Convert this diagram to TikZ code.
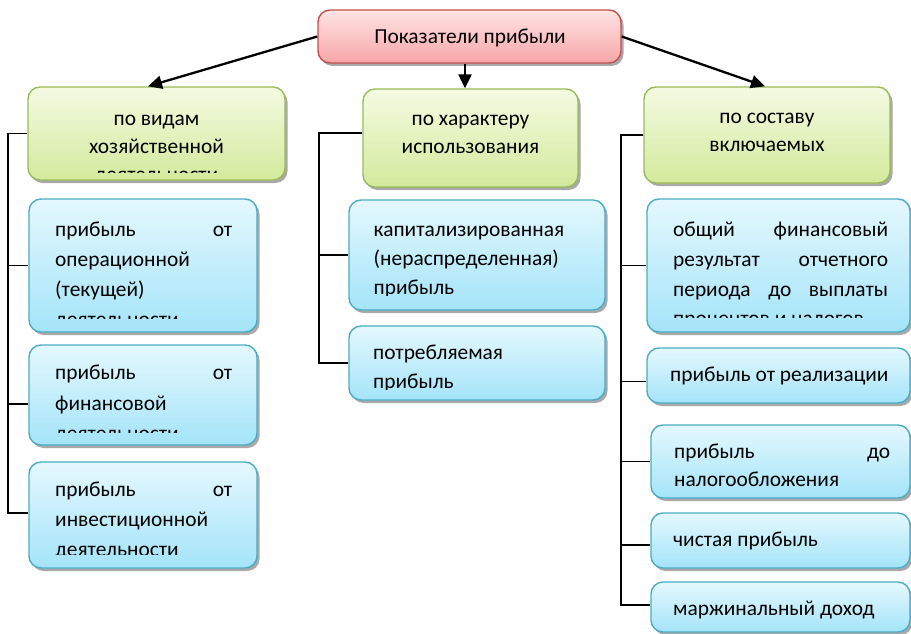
\documentclass[tikz,border=0pt]{standalone}
\usepackage{fontspec}
\setmainfont{Carlito}
\usetikzlibrary{arrows.meta,shadows,fit,calc}
\definecolor{redT}{HTML}{FFE4E4}
\definecolor{redBt}{HTML}{F7A5A8}
\definecolor{redD}{HTML}{C0504D}
\definecolor{grT}{HTML}{F4FAE2}
\definecolor{grBt}{HTML}{D3EA9C}
\definecolor{grD}{HTML}{9BBB59}
\definecolor{blT}{HTML}{E4F8FE}
\definecolor{blBt}{HTML}{A4E4F9}
\definecolor{blD}{HTML}{4BACC6}
\begin{document}
\begin{tikzpicture}[x=1pt,y=-1pt,
  box/.style={draw, line width=1.4pt, rounded corners=12pt, inner sep=0pt,
    drop shadow={shadow xshift=2.5pt, shadow yshift=-3pt, fill=black!45, opacity=0.75}},
  redbox/.style={box, draw=redD, top color=redT, bottom color=redBt},
  grbox/.style={box, draw=grD, top color=grT, bottom color=grBt},
  blbox/.style={box, draw=blD, top color=blT, bottom color=blBt},
  txt/.style={inner sep=0pt, font=\fontsize{21.4}{25}\selectfont, text=black},
  ln/.style={draw=black, line width=1.8pt},
  arr/.style={draw=black, line width=2.3pt, -{Triangle[length=14pt,width=13pt]}}]
\useasboundingbox (0,0) rectangle (911,634);

% boxes
\node[redbox, fit={(318,10) (621,63)}] (T) {};
\node[grbox, fit={(28,87) (285,180)}] (G1) {};
\node[grbox, fit={(363,89) (578,187)}] (MG) {};
\node[grbox, fit={(644,87) (890,183)}] (RG) {};
\node[blbox, fit={(29,199) (257,332)}] (L1) {};
\node[blbox, fit={(29,345) (257,445)}] (L2) {};
\node[blbox, fit={(29,462) (257,568)}] (L3) {};
\node[blbox, fit={(349,200) (605,310)}] (MB1) {};
\node[blbox, fit={(349,326) (605,400)}] (MB2) {};
\node[blbox, fit={(647,199) (910,332)}] (RB1) {};
\node[blbox, fit={(647,348) (910,403)}] (RB2) {};
\node[blbox, fit={(651,425) (910,498)}] (RB3) {};
\node[blbox, fit={(651,513) (910,568)}] (RB4) {};
\node[blbox, fit={(651,582) (910,632)}] (RB5) {};

% texts
\node[txt, anchor=base] (tT) at (470,43.3) {Показатели прибыли};

\begin{scope}
\clip (28,87) rectangle (285,172.5);
\node[txt, anchor=base] (tG1a) at (156.5,125) {по видам};
\node[txt, anchor=base] (tG1b) at (156.5,153) {хозяйственной};
\node[txt, anchor=base] (tG1c) at (156.5,181) {деятельности};
\end{scope}

\node[txt, anchor=base] (tMGa) at (470.5,125) {по характеру};
\node[txt, anchor=base] (tMGb) at (470.5,153.3) {использования};

\node[txt, anchor=base] (tRGa) at (767,123.3) {по составу};
\node[txt, anchor=base] (tRGb) at (767,151.7) {включаемых};

\begin{scope}
\clip (29,199) rectangle (257,318.5);
\node[txt, anchor=base west] (tL1a) at (55,236.7) {\makebox[177pt][s]{прибыль от}};
\node[txt, anchor=base west] (tL1b) at (55,266.7) {операционной};
\node[txt, anchor=base west] (tL1c) at (55,296.7) {(текущей)};
\node[txt, anchor=base west] (tL1d) at (55,326.7) {деятельности};
\end{scope}

\begin{scope}
\clip (29,345) rectangle (257,432);
\node[txt, anchor=base west] (tL2a) at (55,379.3) {\makebox[177pt][s]{прибыль от}};
\node[txt, anchor=base west] (tL2b) at (55,410) {финансовой};
\node[txt, anchor=base west] (tL2c) at (55,440.5) {деятельности};
\end{scope}

\begin{scope}
\clip (29,462) rectangle (257,554.5);
\node[txt, anchor=base west] (tL3a) at (55,496.7) {\makebox[177pt][s]{прибыль от}};
\node[txt, anchor=base west] (tL3b) at (55,526.7) {инвестиционной};
\node[txt, anchor=base west] (tL3c) at (55,556.7) {деятельности};
\end{scope}

\begin{scope}
\clip (349,200) rectangle (605,295.5);
\node[txt, anchor=base west] (tM1a) at (373.5,236.5) {капитализированная};
\node[txt, anchor=base west] (tM1b) at (373.5,265.5) {(нераспределенная)};
\node[txt, anchor=base west] (tM1c) at (373.5,294) {прибыль};
\end{scope}

\begin{scope}
\clip (349,326) rectangle (605,389.5);
\node[txt, anchor=base west] (tM2a) at (373,359.3) {потребляемая};
\node[txt, anchor=base west] (tM2b) at (373,388.3) {прибыль};
\end{scope}

\begin{scope}
\clip (647,199) rectangle (910,317.5);
\node[txt, anchor=base west] (tR1a) at (673,236.7) {\makebox[215pt][s]{общий финансовый}};
\node[txt, anchor=base west] (tR1b) at (673,266) {\makebox[215pt][s]{результат отчетного}};
\node[txt, anchor=base west] (tR1c) at (673,296) {\makebox[215pt][s]{периода до выплаты}};
\node[txt, anchor=base west] (tR1d) at (673,325.5) {процентов и налогов};
\end{scope}

\node[txt, anchor=base west] (tR2) at (670,381.7) {прибыль от реализации};
\node[txt, anchor=base west] (tR3a) at (674,458.3) {\makebox[216pt][s]{прибыль до}};
\node[txt, anchor=base west] (tR3b) at (674,486.7) {налогообложения};
\node[txt, anchor=base west] (tR4) at (673,546) {чистая прибыль};
\node[txt, anchor=base west] (tR5) at (673,615) {маржинальный доход};

% arrows
\draw[arr] (T.west) -- ([xshift=-8.5pt]G1.north);
\draw[arr] ([xshift=-4.5pt]T.south) -- ([xshift=-4.5pt]T.south |- MG.north);
\draw[arr] (T.east) -- ([xshift=-2pt]RG.north);

% left bus
\coordinate (lb) at (8,0);
\coordinate (l2c) at ([yshift=-9pt]L2.west);
\coordinate (l3c) at ([yshift=2pt]L3.west);
\draw[ln] (G1.west) -- (G1.west -| lb) |- (l3c);
\draw[ln] (L1.west -| lb) -- (L1.west);
\draw[ln] (l2c -| lb) -- (l2c);

% middle bus
\coordinate (mb) at (319,0);
\coordinate (mgc) at ([yshift=5pt]MG.west);
\draw[ln] (mgc) -- (mgc -| mb) |- (MB2.west);
\draw[ln] (MB1.west -| mb) -- (MB1.west);

% right bus
\coordinate (rb) at (621,0);
\coordinate (r2c) at ([yshift=-6pt]RB2.west);
\coordinate (r4c) at ([yshift=-4.5pt]RB4.west);
\coordinate (r5c) at ([yshift=2pt]RB5.west);
\draw[ln] (RG.west) -- (RG.west -| rb) |- (r5c);
\draw[ln] (RB1.west -| rb) -- (RB1.west);
\draw[ln] (r2c -| rb) -- (r2c);
\draw[ln] (RB3.west -| rb) -- (RB3.west);
\draw[ln] (r4c -| rb) -- (r4c);
\end{tikzpicture}
\end{document}
